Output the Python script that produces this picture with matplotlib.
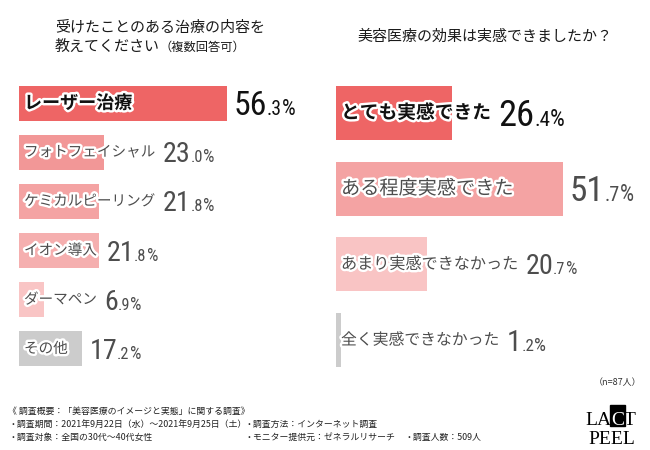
import matplotlib
matplotlib.use('Agg')
import matplotlib.pyplot as plt
from matplotlib import font_manager
from matplotlib import patheffects as pe
from matplotlib.transforms import IdentityTransform, offset_copy
from matplotlib.patches import Rectangle

plt.rcParams['font.family'] = ['Noto Sans CJK JP', 'DejaVu Sans']

# --- data ---
left_title = ['受けたことのある治療の内容を', '教えてください']
left_title_note = '（複数回答可）'
left_labels = ['レーザー治療', 'フォトフェイシャル', 'ケミカルピーリング', 'イオン導入', 'ダーマペン', 'その他']
left_values = [56.3, 23.0, 21.8, 21.8, 6.9, 17.2]
left_colors = ['#EE6565', '#F29797', '#F4A3A3', '#F5AFAF', '#F9C5C5', '#CCCCCC']

right_title = '美容医療の効果は実感できましたか？'
right_labels = ['とても実感できた', 'ある程度実感できた', 'あまり実感できなかった', '全く実感できなかった']
right_values = [26.4, 51.7, 20.7, 1.2]
right_colors = ['#EE6565', '#F4A3A3', '#F9C4C4', '#CCCCCC']

sample_note = '（n=87人）'
notes = [
    ('《 調査概要：「美容医療のイメージと実態」に関する調査》', 0, 0),
    ('・調査期間：2021年9月22日（水）～2021年9月25日（土）', 0, 1),
    ('・調査方法：インターネット調査', 1, 1),
    ('・調査対象：全国の30代～40代女性', 0, 2),
    ('・モニター提供元：ゼネラルリサーチ', 1, 2),
    ('・調査人数：509人', 2, 2),
]

W, H, DPI = 650, 450, 100


def box(x0, y0, x1, y1):
    # pixel box measured from the top-left corner -> figure fraction
    return [x0 / W, 1 - y1 / H, (x1 - x0) / W, (y1 - y0) / H]


def pick_num_font():
    for name in ['Roboto Condensed', 'Liberation Sans Narrow', 'Open Sans Condensed']:
        try:
            font_manager.findfont(font_manager.FontProperties(family=name),
                                  fallback_to_default=False)
            return name
        except ValueError:
            pass
    return 'DejaVu Sans'


num_font = pick_num_font()

fig = plt.figure(figsize=(W / DPI, H / DPI), dpi=DPI)
renderer = fig.canvas.get_renderer()
halo = [pe.withStroke(linewidth=3.5, foreground='white')]


def px_text(x, y, s, **kw):
    # y from top, in pixels
    return fig.text(x / W, 1 - y / H, s, **kw)


def right_px(t):
    return t.get_window_extent(renderer).x1


def place_value(ax, i, v, label, cap, color):
    xb, yc = ax.transData.transform((v, i))
    x = max(xb, right_px(label)) + 7
    base = yc - cap / 2
    whole, frac = f'{v:.1f}'.split('.')
    size = cap / 0.71 * 72 / DPI
    for s, fs in [(whole, size), ('.' + frac, size * 0.58), ('%', size * 0.64)]:
        t = fig.text(x, base, s, transform=IdentityTransform(), fontsize=fs,
                     family=num_font, color=color, va='baseline', ha='left')
        x = right_px(t)


# --- left panel ---
px_text(55, 27.5, left_title[0], fontsize=10.8, color='#1a1a1a', va='center')
t2 = px_text(55, 46.5, left_title[1], fontsize=10.8, color='#1a1a1a', va='center')
px_text(right_px(t2), 47, left_title_note, fontsize=8.8, color='#1a1a1a', va='center')

axL = fig.add_axes(box(19, 78.5, 319, 373.5))
axL.barh(range(len(left_values)), left_values, height=0.71, color=left_colors)
axL.set_xlim(0, 300 / 3.69)
axL.set_ylim(len(left_values) - 0.5, -0.5)
axL.axis('off')

lab_tr = offset_copy(axL.transData, fig=fig, x=5, y=0, units='dots')
for i, (lab, v) in enumerate(zip(left_labels, left_values)):
    first = i == 0
    t = axL.text(0, i, lab, transform=lab_tr, va='center', ha='left',
                 fontsize=13 if first else 10.5,
                 fontweight='bold' if first else 'normal',
                 color='#111111' if first else '#4d4d4d', path_effects=halo)
    place_value(axL, i, v, t, 24 if first else 20, '#111111' if first else '#4d4d4d')

# --- right panel ---
px_text(357, 37, right_title, fontsize=10.8, color='#1a1a1a', va='center')

axR = fig.add_axes(box(336, 75, 636, 378))
axR.barh(range(len(right_values)), right_values, height=0.71, color=right_colors)
axR.set_xlim(0, 300 / 4.39)
axR.set_ylim(len(right_values) - 0.5, -0.5)
axR.axis('off')

lab_tr = offset_copy(axR.transData, fig=fig, x=5, y=0, units='dots')
r_sizes = [13.5, 13.8, 11.6, 11.4]
r_caps = [26, 25, 20, 21]
for i, (lab, v) in enumerate(zip(right_labels, right_values)):
    first = i == 0
    t = axR.text(0, i, lab, transform=lab_tr, va='center', ha='left',
                 fontsize=r_sizes[i], fontweight='bold' if first else 'normal',
                 color='#111111' if first else '#4d4d4d', path_effects=halo)
    place_value(axR, i, v, t, r_caps[i], '#111111' if first else '#4d4d4d')

# --- footnotes ---
px_text(641, 383, sample_note, fontsize=6.5, color='#333333', ha='right', va='center')
col_x = [8, 245, 405]
row_y = [411, 424, 437]
for s, c, r in notes:
    px_text(col_x[c], row_y[r], s, fontsize=6.4, color='#222222', va='center')

# logo: LA [C on black block] T / PEEL
xl = 585
for s, col in [('LA', 'black'), ('C', 'white'), ('T', 'black')]:
    t = px_text(xl, 425, s, fontsize=14, family='Liberation Serif', color=col,
                va='baseline', ha='left', zorder=4)
    bb = t.get_window_extent(renderer)
    if s == 'C':
        fig.patches.append(Rectangle((bb.x0 / W - 1 / W, 1 - 426 / H), (bb.width + 2) / W, 21 / H,
                                     transform=fig.transFigure, color='black', figure=fig))
    xl = bb.x1
px_text(612, 444, 'PEEL', fontsize=14, family='Liberation Serif', color='black',
        ha='center', va='baseline')

fig.savefig('out.png', dpi=DPI)
